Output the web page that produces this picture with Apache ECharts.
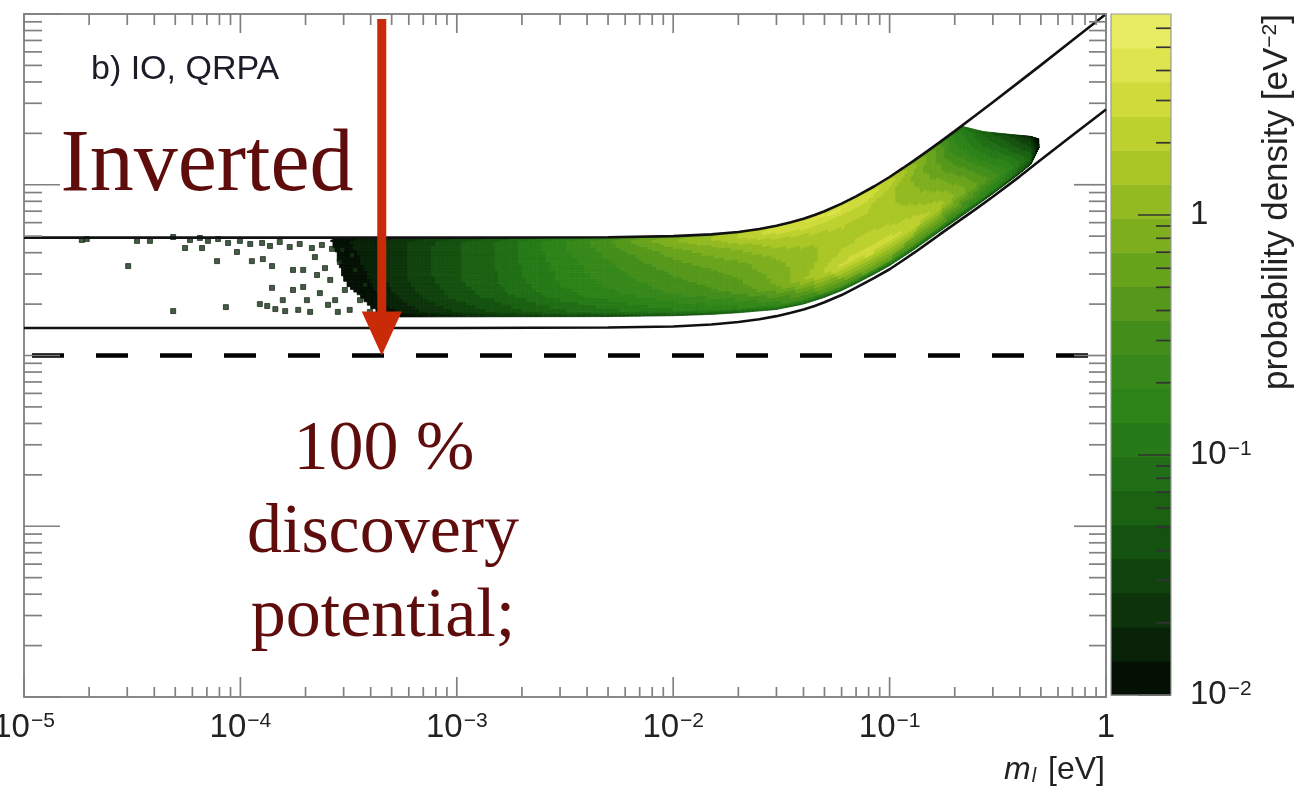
<!DOCTYPE html>
<html>
<head>
<meta charset="utf-8">
<script src="https://cdn.jsdelivr.net/npm/echarts@6/dist/echarts.min.js"></script>
<style>
  html, body { margin: 0; padding: 0; background: #ffffff; }
  #chart { width: 1313px; height: 791px; }
</style>
</head>
<body>
<div id="chart"></div>
<script>
// ---- Allowed region for the inverted ordering: m_bb limits vs lightest mass m_l (eV)
const bandMl    = [1e-5, 1e-3, 5e-3, 0.01, 0.015, 0.02, 0.025, 0.03, 0.035, 0.04, 0.045, 0.05, 0.06, 0.07, 0.085, 0.1, 0.115, 0.13, 0.15, 0.17, 0.2, 0.25, 0.3, 0.4, 0.5, 0.7, 1];
const bandUpper = [0.049, 0.049, 0.0493, 0.050, 0.0512, 0.0529, 0.055, 0.0575, 0.0603, 0.0633, 0.0665, 0.070, 0.0775, 0.0855, 0.098, 0.111, 0.125, 0.139, 0.158, 0.177, 0.206, 0.255, 0.304, 0.403, 0.502, 0.702, 1.0];
const bandLower = [0.0145, 0.0145, 0.0146, 0.0148, 0.0152, 0.0157, 0.0163, 0.0170, 0.0178, 0.0186, 0.0195, 0.0205, 0.0226, 0.025, 0.0285, 0.032, 0.036, 0.040, 0.0455, 0.051, 0.059, 0.072, 0.085, 0.112, 0.140, 0.195, 0.276];

// lower edge of the sampled posterior and its upper cut at large masses
const fillMl     = [2.5e-4, 5e-3, 0.01, 0.015, 0.02, 0.03, 0.04, 0.05, 0.06, 0.07, 0.085, 0.1, 0.13, 0.17, 0.2, 0.25, 0.3, 0.4, 0.45, 0.49];
const fillLower  = [0.0168, 0.0169, 0.0171, 0.0174, 0.0178, 0.0186, 0.0200, 0.0219, 0.0240, 0.0264, 0.0300, 0.0336, 0.0418, 0.0532, 0.0614, 0.0750, 0.0885, 0.1165, 0.132, 0.165];
const capMl      = [0.21, 0.27, 0.35, 0.45, 0.49];
const capMbb     = [0.222, 0.205, 0.198, 0.192, 0.185];

// probability density (eV^-2): columns at densMl, rows at fractional height densS across the region
const densMl = [2.5e-4, 3e-4, 4e-4, 5e-4, 7e-4, 1e-3, 1.5e-3, 2e-3, 3e-3, 5e-3, 7e-3, 0.01, 0.015, 0.02, 0.03, 0.045, 0.06, 0.08, 0.1, 0.13, 0.17, 0.21, 0.27, 0.35, 0.45, 0.49];
const densS  = [0, 0.06, 0.28, 0.45, 0.62, 0.82, 0.95, 1];
const density = [
  [0.004, 0.004, 0.005, 0.006, 0.007, 0.008, 0.009, 0.009],
  [0.005, 0.006, 0.008, 0.010, 0.011, 0.012, 0.013, 0.012],
  [0.007, 0.009, 0.012, 0.014, 0.015, 0.016, 0.017, 0.015],
  [0.009, 0.013, 0.018, 0.021, 0.022, 0.022, 0.022, 0.018],
  [0.012, 0.019, 0.028, 0.032, 0.033, 0.033, 0.032, 0.025],
  [0.015, 0.027, 0.042, 0.048, 0.050, 0.050, 0.048, 0.036],
  [0.019, 0.038, 0.060, 0.068, 0.070, 0.072, 0.070, 0.050],
  [0.022, 0.048, 0.080, 0.095, 0.100, 0.105, 0.105, 0.075],
  [0.028, 0.065, 0.120, 0.140, 0.150, 0.170, 0.180, 0.120],
  [0.033, 0.085, 0.170, 0.210, 0.240, 0.290, 0.350, 0.250],
  [0.038, 0.105, 0.210, 0.270, 0.320, 0.420, 0.600, 0.450],
  [0.042, 0.125, 0.270, 0.340, 0.420, 0.600, 0.950, 0.750],
  [0.046, 0.150, 0.340, 0.420, 0.550, 0.850, 1.400, 1.150],
  [0.048, 0.175, 0.420, 0.520, 0.650, 1.100, 2.000, 1.700],
  [0.050, 0.220, 0.700, 0.800, 1.000, 1.600, 3.200, 2.800],
  [0.050, 0.300, 1.600, 1.300, 1.300, 2.000, 3.800, 3.200],
  [0.050, 0.380, 2.800, 1.900, 1.600, 2.200, 3.800, 3.000],
  [0.050, 0.420, 3.200, 2.100, 1.600, 2.000, 3.300, 2.500],
  [0.050, 0.420, 3.000, 1.900, 1.500, 1.500, 2.300, 1.700],
  [0.045, 0.380, 2.500, 1.500, 1.100, 0.900, 1.100, 0.800],
  [0.040, 0.330, 1.700, 1.000, 0.650, 0.450, 0.450, 0.330],
  [0.035, 0.280, 0.900, 0.550, 0.320, 0.170, 0.140, 0.100],
  [0.030, 0.190, 0.450, 0.300, 0.170, 0.095, 0.075, 0.060],
  [0.024, 0.100, 0.200, 0.140, 0.085, 0.055, 0.042, 0.034],
  [0.016, 0.040, 0.060, 0.050, 0.038, 0.028, 0.022, 0.018],
  [0.011, 0.012, 0.013, 0.013, 0.012, 0.011, 0.010, 0.010]
];

// isolated low-density samples at small m_l
const sparseSamples = [
  [1.85e-5, 0.0475], [1.95e-5, 0.0481], [3.03e-5, 0.0334], [3.33e-5, 0.0469], [3.82e-5, 0.0469],
  [4.89e-5, 0.0494], [5.55e-5, 0.0426], [4.89e-5, 0.0182], [6.65e-5, 0.0426], [7.8e-5, 0.0357],
  [8.57e-5, 0.0192], [9.64e-5, 0.0404], [1.13e-4, 0.0357], [1.27e-4, 0.0367], [1.4e-4, 0.0334],
  [1.4e-4, 0.0249], [1.23e-4, 0.020], [1.33e-4, 0.0195], [1.45e-4, 0.0187], [1.57e-4, 0.0211],
  [1.61e-4, 0.0182], [1.75e-4, 0.0317], [1.95e-4, 0.0317], [1.75e-4, 0.0242], [1.85e-4, 0.0185],
  [1.95e-4, 0.0252], [2.03e-4, 0.0211], [2.1e-4, 0.018], [2.21e-4, 0.0377], [2.26e-4, 0.0296],
  [2.33e-4, 0.0232], [2.46e-4, 0.0325],
  [5.85e-5, 0.0475], [6.5e-5, 0.0488], [7.08e-5, 0.0469], [7.89e-5, 0.0481], [8.77e-5, 0.0456],
  [9.95e-5, 0.0469], [1.11e-4, 0.045], [1.26e-4, 0.0456], [1.37e-4, 0.0438], [1.52e-4, 0.0462],
  [1.69e-4, 0.0432], [1.88e-4, 0.045], [2.14e-4, 0.0426], [2.38e-4, 0.0444], [2.65e-4, 0.0421],
  [2.6e-4, 0.0277], [2.74e-4, 0.0211], [2.88e-4, 0.0353], [3.04e-4, 0.0242], [3.2e-4, 0.0185],
  [2.82e-4, 0.018], [3.39e-4, 0.0317], [3.57e-4, 0.0211], [3.77e-4, 0.0259], [3.97e-4, 0.018],
  [2.54e-4, 0.0198], [2.95e-4, 0.0415], [3.28e-4, 0.0388]
];

// axes
const xDecades = [1e-5, 1e-4, 1e-3, 1e-2, 1e-1, 1];
const yDecades = [1e-4, 1e-3, 1e-2, 1e-1, 1];
const zDecades = [1e-2, 1e-1, 1];
const zMax = 6.88;
const minorMantissas = [2, 3, 4, 5, 6, 7, 8, 9];

// colour palette: 20 contour levels, lowest to highest density
const levelColors = [
  '#041004', '#082208', '#0c330a', '#10420d', '#14520f', '#1a6112', '#206e15', '#267a17', '#2c8318', '#358819',
  '#438e1a', '#55981b', '#68a31c', '#7dae1e', '#93ba21', '#a9c626', '#bdd12e', '#cfdb3a', '#dde44e', '#e8ec62'
];

// annotations
const discoveryLevel = 0.01;
const arrowAt = [4.5e-4, 0.935];

const lg = Math.log10;
const zLogMin = lg(zDecades[0]);
const zStep = (lg(zMax) - zLogMin) / levelColors.length;

function logInterp(xs, ys, x) {
  if (x <= xs[0]) return ys[0];
  const n = xs.length;
  if (x >= xs[n - 1]) return ys[n - 1];
  for (let i = 0; i < n - 1; i++) {
    if (x <= xs[i + 1]) {
      const t = (lg(x) - lg(xs[i])) / (lg(xs[i + 1]) - lg(xs[i]));
      return Math.pow(10, lg(ys[i]) + t * (lg(ys[i + 1]) - lg(ys[i])));
    }
  }
  return ys[n - 1];
}
function fillBottom(m) { return logInterp(fillMl, fillLower, m); }
function fillTop(m) {
  const up = logInterp(bandMl, bandUpper, m);
  if (m < capMl[0]) return up;
  return Math.min(up, logInterp(capMl, capMbb, m));
}
function levelColor(logD) {
  if (logD < zLogMin) return null;
  let k = Math.floor((logD - zLogMin) / zStep);
  if (k > levelColors.length - 1) k = levelColors.length - 1;
  return levelColors[k];
}

// density contours: every column strip is split into small quads shaded by contour level
function renderDensity(params, api) {
  const i = api.value(2);
  const la = lg(densMl[i]), lb = lg(densMl[i + 1]);
  const NX = 8, NY = 5;
  const children = [];
  for (let a = 0; a < NX; a++) {
    const t0 = a / NX, t1 = (a + 1) / NX, tc = (a + 0.5) / NX;
    const m0 = Math.pow(10, la + t0 * (lb - la));
    const m1 = Math.pow(10, la + t1 * (lb - la));
    const lo0 = lg(fillBottom(m0)), hi0 = lg(fillTop(m0));
    const lo1 = lg(fillBottom(m1)), hi1 = lg(fillTop(m1));
    for (let j = 0; j < densS.length - 1; j++) {
      const d00 = lg(density[i][j]), d01 = lg(density[i][j + 1]);
      const d10 = lg(density[i + 1][j]), d11 = lg(density[i + 1][j + 1]);
      for (let b = 0; b < NY; b++) {
        const u0 = b / NY, u1 = (b + 1) / NY, uc = (b + 0.5) / NY;
        const ld = (1 - tc) * ((1 - uc) * d00 + uc * d01) + tc * ((1 - uc) * d10 + uc * d11);
        const col = levelColor(ld);
        if (!col) continue;
        const s0 = densS[j] + u0 * (densS[j + 1] - densS[j]);
        const s1 = densS[j] + u1 * (densS[j + 1] - densS[j]);
        const pts = [
          api.coord([m0, Math.pow(10, lo0 + s0 * (hi0 - lo0))]),
          api.coord([m1, Math.pow(10, lo1 + s0 * (hi1 - lo1))]),
          api.coord([m1, Math.pow(10, lo1 + s1 * (hi1 - lo1))]),
          api.coord([m0, Math.pow(10, lo0 + s1 * (hi0 - lo0))])
        ];
        children.push({ type: 'polygon', shape: { points: pts }, style: { fill: col, stroke: col, lineWidth: 0.8 } });
      }
    }
  }
  return { type: 'group', children };
}

// tick marks on all four sides of the main frame (major at decades, minor at 2..9)
const yMin = yDecades[0], yMax = yDecades[yDecades.length - 1];
const xMin = xDecades[0], xMax = xDecades[xDecades.length - 1];
const mainTicks = [];
xDecades.forEach((d, i) => {
  mainTicks.push([d, yMin, 0, 1]);
  if (i < xDecades.length - 1) minorMantissas.forEach(m => mainTicks.push([d * m, yMin, 0, 0]));
});
yDecades.forEach((d, i) => {
  mainTicks.push([xMin, d, 1, 1]);
  if (i < yDecades.length - 1) minorMantissas.forEach(m => mainTicks.push([xMin, d * m, 1, 0]));
});
const tickStyle = { stroke: '#808080', lineWidth: 1.7 };
function renderMainTick(params, api) {
  const kind = api.value(2), major = api.value(3);
  if (kind === 0) {
    const v = api.value(0);
    const b = api.coord([v, yMin]), t = api.coord([v, yMax]);
    const L1 = major ? 20 : 10, L2 = major ? 19 : 11;
    return { type: 'group', children: [
      { type: 'line', shape: { x1: b[0], y1: b[1], x2: b[0], y2: b[1] - L1 }, style: tickStyle },
      { type: 'line', shape: { x1: t[0], y1: t[1], x2: t[0], y2: t[1] + L2 }, style: tickStyle }
    ] };
  }
  const v = api.value(1);
  const l = api.coord([xMin, v]), r = api.coord([xMax, v]);
  const L1 = major ? 36 : 18, L2 = major ? 32 : 17;
  return { type: 'group', children: [
    { type: 'line', shape: { x1: l[0], y1: l[1], x2: l[0] + L1, y2: l[1] }, style: tickStyle },
    { type: 'line', shape: { x1: r[0], y1: r[1], x2: r[0] - L2, y2: r[1] }, style: tickStyle }
  ] };
}

// colour bar: one rectangle per contour level, with its own tick marks
const barLevels = levelColors.map((c, k) => [0, Math.pow(10, zLogMin + k * zStep), k]);
function renderBarLevel(params, api) {
  const k = api.value(2);
  const lo = Math.pow(10, zLogMin + k * zStep), hi = Math.pow(10, zLogMin + (k + 1) * zStep);
  const p0 = api.coord([0, lo]), p1 = api.coord([1, hi]);
  return { type: 'rect', shape: { x: p0[0], y: p1[1], width: p1[0] - p0[0], height: p0[1] - p1[1] + 0.5 },
           style: { fill: levelColors[k] } };
}
const barTicks = [];
zDecades.forEach(d => {
  barTicks.push([1, d, 1]);
  minorMantissas.forEach(m => { if (d * m < zMax) barTicks.push([1, d * m, 0]); });
});
function renderBarTick(params, api) {
  const p = api.coord([1, api.value(1)]);
  const L = api.value(2) ? 33 : 15;
  return { type: 'line', shape: { x1: p[0], y1: p[1], x2: p[0] - L, y2: p[1] }, style: { stroke: '#333333', lineWidth: 1.7 } };
}

// red arrow down to the discovery threshold
function renderArrow(params, api) {
  const top = api.coord([api.value(0), api.value(1)]);
  const tip = api.coord([api.value(0), discoveryLevel]);
  const headH = 44, headW = 20, shaft = 4.5;
  const red = '#c92a08';
  return { type: 'group', children: [
    { type: 'rect', shape: { x: top[0] - shaft, y: top[1], width: 2 * shaft, height: tip[1] - headH - top[1] + 1 }, style: { fill: red } },
    { type: 'polygon', shape: { points: [[tip[0] - headW, tip[1] - headH], [tip[0] + headW, tip[1] - headH], [tip[0], tip[1]]] }, style: { fill: red } }
  ] };
}

function expLabel(v) {
  const e = Math.round(lg(v));
  if (Math.abs(lg(v) - e) > 1e-6) return '';
  return e === 0 ? '1' : '10{sup|\u2212' + (-e) + '}';
}
const labelRich = { sup: { fontSize: 21, fontFamily: 'Liberation Sans', color: '#222', verticalAlign: 'top', padding: [0, 0, 0, 1] } };
const axisLineStyle = { lineStyle: { color: '#8a8a8a', width: 2 } };

const chart = echarts.init(document.getElementById('chart'), null, { renderer: 'canvas' });
chart.setOption({
  animation: false,
  backgroundColor: '#ffffff',
  grid: [
    { left: 24, top: 14, width: 1082, height: 683, outerBoundsMode: 'none', containLabel: false },
    { left: 1111, top: 14, width: 60, height: 681, outerBoundsMode: 'none', containLabel: false }
  ],
  xAxis: [
    { type: 'log', logBase: 10, gridIndex: 0, min: xMin, max: xMax, interval: 1, position: 'bottom',
      axisLine: axisLineStyle, axisTick: { show: false }, splitLine: { show: false }, minorTick: { show: false },
      axisLabel: { margin: 14, color: '#222', fontFamily: 'Liberation Sans', fontSize: 33, formatter: expLabel, rich: labelRich } },
    { type: 'log', logBase: 10, gridIndex: 0, min: xMin, max: xMax, interval: 1, position: 'top',
      axisLine: axisLineStyle, axisTick: { show: false }, splitLine: { show: false }, axisLabel: { show: false } },
    { type: 'value', gridIndex: 1, min: 0, max: 1, show: false }
  ],
  yAxis: [
    { type: 'log', logBase: 10, gridIndex: 0, min: yMin, max: yMax, interval: 1, position: 'left',
      axisLine: axisLineStyle, axisTick: { show: false }, splitLine: { show: false }, axisLabel: { show: false } },
    { type: 'log', logBase: 10, gridIndex: 0, min: yMin, max: yMax, interval: 1, position: 'right',
      axisLine: axisLineStyle, axisTick: { show: false }, splitLine: { show: false }, axisLabel: { show: false } },
    { type: 'log', logBase: 10, gridIndex: 1, min: zDecades[0], max: zMax, interval: 1, position: 'right',
      axisLine: { show: false }, axisTick: { show: false }, splitLine: { show: false },
      axisLabel: { margin: 19, color: '#222', fontFamily: 'Liberation Sans', fontSize: 33, formatter: expLabel, rich: labelRich,
                   showMaxLabel: false } }
  ],
  series: [
    { type: 'custom', name: 'density', xAxisIndex: 0, yAxisIndex: 0, z: 2, clip: true,
      renderItem: renderDensity, encode: { x: 0, y: 1 },
      data: densMl.slice(0, -1).map((m, i) => [m, fillBottom(m), i]) },
    { type: 'scatter', name: 'samples', xAxisIndex: 0, yAxisIndex: 0, z: 3, symbol: 'rect', symbolSize: 5,
      itemStyle: { color: '#143414', borderColor: '#050c05', borderWidth: 0.8 }, data: sparseSamples },
    { type: 'line', name: 'upper', xAxisIndex: 0, yAxisIndex: 0, z: 4, showSymbol: false,
      lineStyle: { color: '#111', width: 2.6 }, data: bandMl.map((m, i) => [m, bandUpper[i]]) },
    { type: 'line', name: 'lower', xAxisIndex: 0, yAxisIndex: 0, z: 4, showSymbol: false,
      lineStyle: { color: '#111', width: 2.6 }, data: bandMl.map((m, i) => [m, bandLower[i]]) },
    { type: 'line', name: 'discovery', xAxisIndex: 0, yAxisIndex: 0, z: 5, showSymbol: false,
      lineStyle: { color: '#000', width: 4.5, type: [32, 32], dashOffset: 56 },
      data: [[xMin, discoveryLevel], [xMax, discoveryLevel]] },
    { type: 'custom', name: 'ticks', xAxisIndex: 0, yAxisIndex: 0, z: 6, clip: false,
      renderItem: renderMainTick, encode: { x: 0, y: 1 }, data: mainTicks },
    { type: 'custom', name: 'arrow', xAxisIndex: 0, yAxisIndex: 0, z: 7, clip: false,
      renderItem: renderArrow, encode: { x: 0, y: 1 }, data: [arrowAt] },
    { type: 'custom', name: 'colorbar', xAxisIndex: 2, yAxisIndex: 2, z: 2, clip: false,
      renderItem: renderBarLevel, encode: { x: 0, y: 1 }, data: barLevels },
    { type: 'custom', name: 'colorbarTicks', xAxisIndex: 2, yAxisIndex: 2, z: 3, clip: false,
      renderItem: renderBarTick, encode: { x: 0, y: 1 }, data: barTicks }
  ],
  graphic: [
    { type: 'rect', z: 10, shape: { x: 1111, y: 14, width: 60, height: 681 }, style: { fill: 'none', stroke: '#9a9a9a', lineWidth: 1.2 } },
    { type: 'text', z: 10, x: 91, y: 70,
      style: { text: 'b) IO, QRPA', fontFamily: 'Liberation Sans', fontSize: 34, fill: '#1c1c28', verticalAlign: 'middle', align: 'left' } },
    { type: 'text', z: 10, x: 207, y: 167,
      style: { text: 'Inverted', fontFamily: 'Liberation Serif', fontSize: 88, fill: '#5f0c0c', verticalAlign: 'middle', align: 'center' } },
    { type: 'text', z: 10, x: 384, y: 451,
      style: { text: '100 %', fontFamily: 'Liberation Serif', fontSize: 70, fill: '#5f0c0c', verticalAlign: 'middle', align: 'center' } },
    { type: 'text', z: 10, x: 383, y: 534,
      style: { text: 'discovery', fontFamily: 'Liberation Serif', fontSize: 70, fill: '#5f0c0c', verticalAlign: 'middle', align: 'center' } },
    { type: 'text', z: 10, x: 383, y: 618,
      style: { text: 'potential;', fontFamily: 'Liberation Serif', fontSize: 70, fill: '#5f0c0c', verticalAlign: 'middle', align: 'center' } },
    { type: 'text', z: 10, x: 1105, y: 770,
      style: { text: '{it|m}{sub|l} [eV]', fontFamily: 'Liberation Sans', fontSize: 32, fill: '#222', align: 'right', verticalAlign: 'middle',
               rich: { it: { fontStyle: 'italic', fontSize: 32, fontFamily: 'Liberation Sans', fill: '#222' },
                       sub: { fontStyle: 'italic', fontSize: 20, fontFamily: 'Liberation Sans', fill: '#222', verticalAlign: 'bottom', padding: [0, 3, 0, 1] } } } },
    { type: 'text', z: 10, x: 1277, y: 14, rotation: Math.PI / 2,
      style: { text: 'probability density [eV{sup|\u22122}]', fontFamily: 'Liberation Sans', fontSize: 35, fill: '#222', align: 'right', verticalAlign: 'middle',
               rich: { sup: { fontSize: 21, fontFamily: 'Liberation Sans', fill: '#222', verticalAlign: 'top' } } } }
  ]
});
</script>
</body>
</html>
